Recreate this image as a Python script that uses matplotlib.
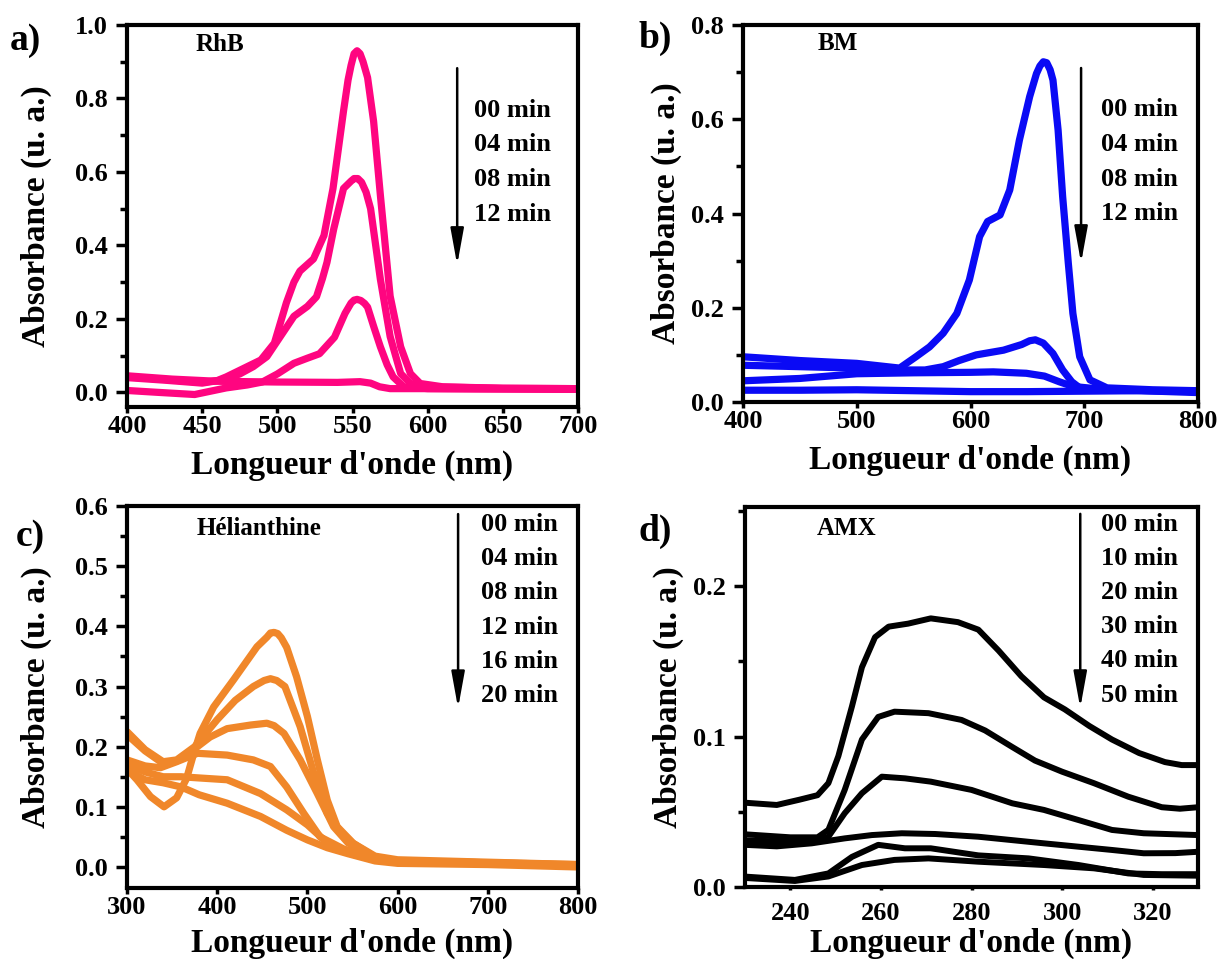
import matplotlib
matplotlib.use('Agg')
import matplotlib.pyplot as plt
from matplotlib.ticker import MultipleLocator

plt.rcParams['font.family'] = ['Liberation Serif', 'DejaVu Serif']
plt.rcParams['font.weight'] = 'bold'

# ---- a) RhB ----
wl_a00 = [400, 425, 450, 460, 466, 475, 489, 498, 506, 511, 515, 524, 531, 537, 544, 547, 549, 551, 553, 555, 557, 560, 564, 568.5, 575, 582, 588.5, 595, 610, 650, 700]
abs_a00 = [0.042, 0.035, 0.027, 0.032, 0.042, 0.06, 0.088, 0.134, 0.244, 0.30, 0.33, 0.363, 0.427, 0.555, 0.766, 0.85, 0.89, 0.922, 0.93, 0.922, 0.9, 0.857, 0.738, 0.537, 0.262, 0.124, 0.051, 0.024, 0.015, 0.011, 0.01]
wl_a04 = [400, 425, 450, 465, 475, 484, 493, 502, 511, 520, 526, 530, 533, 537.5, 544, 549, 551, 553.5, 556, 559, 562, 568.5, 575, 582, 588.5, 600, 650, 700]
abs_a04 = [0.040, 0.033, 0.025, 0.035, 0.05, 0.07, 0.097, 0.152, 0.207, 0.234, 0.26, 0.31, 0.354, 0.445, 0.555, 0.575, 0.582, 0.582, 0.572, 0.545, 0.5, 0.308, 0.152, 0.051, 0.024, 0.015, 0.011, 0.01]
wl_a08 = [400, 420, 445, 466, 480, 490, 500, 511, 520, 528, 538, 545, 549, 551, 553, 555.5, 558, 560, 564, 568.5, 573, 577, 584, 600, 650, 700]
abs_a08 = [0.005, 0.0, -0.006, 0.012, 0.02, 0.028, 0.05, 0.079, 0.093, 0.105, 0.15, 0.215, 0.243, 0.251, 0.253, 0.25, 0.242, 0.232, 0.18, 0.124, 0.075, 0.042, 0.015, 0.01, 0.009, 0.008]
wl_a12 = [400, 430, 460, 500, 540, 555, 562, 568, 575, 600, 650, 700]
abs_a12 = [0.045, 0.036, 0.03, 0.028, 0.027, 0.029, 0.025, 0.015, 0.01, 0.01, 0.009, 0.008]
times_a = ['00 min', '04 min', '08 min', '12 min']

# ---- b) BM ----
wl_b00 = [400, 450, 500, 537.7, 552, 564, 576, 588, 599, 608, 615, 626, 634.5, 643, 652, 658, 661, 664, 667, 670, 672.5, 677, 681, 686, 690, 696, 705, 720, 760, 800]
abs_b00 = [0.096, 0.088, 0.082, 0.072, 0.096, 0.117, 0.146, 0.188, 0.259, 0.351, 0.383, 0.397, 0.45, 0.556, 0.648, 0.697, 0.713, 0.722, 0.72, 0.705, 0.683, 0.577, 0.436, 0.294, 0.188, 0.096, 0.047, 0.03, 0.026, 0.024]
wl_b04 = [400, 450, 500, 540, 560, 576, 590, 605, 629, 645, 652, 657, 664, 672.5, 681, 689, 696, 720, 760, 800]
abs_b04 = [0.078, 0.075, 0.072, 0.068, 0.068, 0.075, 0.088, 0.1, 0.11, 0.122, 0.13, 0.132, 0.125, 0.103, 0.068, 0.043, 0.03, 0.025, 0.024, 0.022]
wl_b08 = [400, 450, 500, 550, 600, 620, 649, 665, 678, 690, 720, 800]
abs_b08 = [0.045, 0.05, 0.06, 0.062, 0.063, 0.064, 0.061, 0.055, 0.043, 0.033, 0.026, 0.022]
wl_b12 = [400, 450, 500, 550, 600, 650, 700, 750, 800]
abs_b12 = [0.025, 0.025, 0.026, 0.024, 0.022, 0.022, 0.023, 0.024, 0.02]
times_b = ['00 min', '04 min', '08 min', '12 min']

# ---- c) Helianthine ----
wl_c00 = [300, 311, 326, 341, 355, 366, 374, 381, 396, 418, 444, 455, 459, 463, 467, 471, 477, 488, 500, 511, 522, 533, 551, 574, 600, 700, 800]
abs_c00 = [0.163, 0.145, 0.117, 0.10, 0.115, 0.147, 0.189, 0.222, 0.266, 0.311, 0.366, 0.382, 0.389, 0.39, 0.388, 0.381, 0.365, 0.316, 0.25, 0.178, 0.111, 0.067, 0.039, 0.017, 0.01, 0.007, 0.003]
wl_c04 = [300, 320, 340, 355, 375, 400, 420, 440, 452, 459, 466, 475, 492, 507, 522, 536, 550, 575, 600, 700, 800]
abs_c04 = [0.225, 0.195, 0.175, 0.178, 0.2, 0.245, 0.277, 0.3, 0.31, 0.313, 0.31, 0.3, 0.233, 0.156, 0.089, 0.06, 0.04, 0.018, 0.012, 0.008, 0.004]
wl_c08 = [300, 320, 340, 355, 378, 392, 411, 437, 455, 463, 474, 492, 511, 529, 545, 575, 600, 700, 800]
abs_c08 = [0.22, 0.193, 0.172, 0.176, 0.2, 0.216, 0.23, 0.236, 0.239, 0.235, 0.222, 0.178, 0.122, 0.067, 0.04, 0.015, 0.01, 0.006, 0.002]
wl_c12 = [300, 320, 337, 355, 378, 411, 440, 459, 477, 496, 514, 540, 575, 600, 700, 800]
abs_c12 = [0.178, 0.168, 0.165, 0.175, 0.189, 0.186, 0.178, 0.167, 0.133, 0.089, 0.05, 0.03, 0.014, 0.01, 0.007, 0.004]
wl_c16 = [300, 320, 340, 360, 380, 411, 448, 477, 500, 522, 545, 575, 600, 700, 800]
abs_c16 = [0.17, 0.158, 0.15, 0.15, 0.148, 0.145, 0.122, 0.095, 0.07, 0.04, 0.025, 0.012, 0.008, 0.006, 0.002]
wl_c20 = [300, 320, 340, 360, 380, 411, 448, 477, 500, 522, 545, 575, 600, 700, 800]
abs_c20 = [0.16, 0.145, 0.14, 0.133, 0.12, 0.106, 0.084, 0.061, 0.045, 0.032, 0.022, 0.01, 0.006, 0.004, 0.0]
times_c = ['00 min', '04 min', '08 min', '12 min', '16 min', '20 min']

# ---- d) AMX ----
wl_d00 = [230, 237, 242, 246, 248.4, 250.6, 253.6, 255.8, 258.7, 261.7, 266, 271, 277, 281.5, 286, 291, 296, 300.6, 306, 311, 317, 322.7, 326.4, 330]
abs_d00 = [0.056, 0.0545, 0.058, 0.061, 0.069, 0.087, 0.12, 0.146, 0.166, 0.173, 0.175, 0.1785, 0.176, 0.171, 0.157, 0.14, 0.126, 0.118, 0.107, 0.098, 0.089, 0.083, 0.081, 0.081]
wl_d10 = [230, 240, 246, 248.4, 252, 255.8, 259.4, 263, 270.5, 277.8, 283, 289, 294, 300, 307, 314.6, 322, 326, 330]
abs_d10 = [0.035, 0.033, 0.033, 0.038, 0.0645, 0.098, 0.113, 0.1165, 0.1155, 0.111, 0.104, 0.093, 0.084, 0.0766, 0.069, 0.06, 0.053, 0.052, 0.053]
wl_d20 = [230, 240, 246, 248.4, 252, 255.8, 260.2, 265.3, 271, 280, 289, 296, 303.6, 311, 318, 330]
abs_d20 = [0.031, 0.03, 0.031, 0.0334, 0.049, 0.0623, 0.0733, 0.0722, 0.07, 0.0645, 0.0556, 0.0512, 0.0445, 0.0379, 0.0357, 0.0345]
wl_d30 = [230, 237, 244.7, 252, 258, 264.6, 272, 281.5, 296, 311, 318, 325, 330]
abs_d30 = [0.028, 0.027, 0.029, 0.0323, 0.0345, 0.0357, 0.0352, 0.0334, 0.029, 0.0246, 0.0224, 0.0225, 0.0234]
wl_d40 = [230, 241, 248.4, 253.6, 259.4, 265.3, 271, 281.5, 292.6, 303.6, 314.6, 322, 330]
abs_d40 = [0.0069, 0.0047, 0.009, 0.02, 0.028, 0.0257, 0.0257, 0.021, 0.019, 0.0146, 0.009, 0.0085, 0.0085]
wl_d50 = [230, 241, 248.4, 255.8, 263, 270.5, 281.5, 296, 307, 318, 330]
abs_d50 = [0.006, 0.004, 0.007, 0.0146, 0.018, 0.019, 0.0168, 0.0146, 0.0124, 0.008, 0.0075]
times_d = ['00 min', '10 min', '20 min', '30 min', '40 min', '50 min']


def style_axis(ax, xlim, ylim, xmaj, ymaj, ymin, xtick_len=4, xpad=2, xlabelpad=8.5, ylabelpad=6):
    ax.set_xlim(*xlim)
    ax.set_ylim(*ylim)
    ax.xaxis.set_major_locator(MultipleLocator(xmaj))
    ax.yaxis.set_major_locator(MultipleLocator(ymaj))
    ax.yaxis.set_minor_locator(MultipleLocator(ymin))
    for s in ax.spines.values():
        s.set_linewidth(3)
    ax.tick_params(axis='both', which='both', direction='out', width=2.5,
                   labelsize=19, top=False, right=False)
    ax.tick_params(axis='y', which='major', length=8, pad=6)
    ax.tick_params(axis='y', which='minor', length=5)
    ax.tick_params(axis='x', which='major', length=xtick_len, pad=xpad)
    ax.set_xlabel("Longueur d'onde (nm)", fontsize=24, fontweight='bold', labelpad=xlabelpad)
    ax.set_ylabel('Absorbance (u. a.)', fontsize=24, fontweight='bold', labelpad=ylabelpad)
    for lab in ax.get_xticklabels() + ax.get_yticklabels():
        lab.set_fontweight('bold')


def arrow_and_times(ax, xa, ya0, ya1, xt, yt0, dy, labels):
    ax.annotate('', xy=(xa, ya1), xytext=(xa, ya0), xycoords='axes fraction',
                arrowprops=dict(arrowstyle='-|>,head_width=0.2,head_length=1.1',
                                lw=1.8, color='black', shrinkA=0, shrinkB=0,
                                mutation_scale=20))
    for i, t in enumerate(labels):
        ax.text(xt, yt0 - i * dy, t, transform=ax.transAxes, fontsize=19,
                fontweight='bold', va='center', ha='left')


fig = plt.figure(figsize=(12.18, 9.59), dpi=100)
ax_a = fig.add_axes([0.1043, 0.5756, 0.3703, 0.3983])
ax_b = fig.add_axes([0.6100, 0.5808, 0.3736, 0.3931])
ax_c = fig.add_axes([0.1043, 0.0740, 0.3703, 0.3983])
ax_d = fig.add_axes([0.6117, 0.0751, 0.3719, 0.3962])

lw = 5.2
pink = '#FF0580'
for x, y in [(wl_a00, abs_a00), (wl_a04, abs_a04), (wl_a08, abs_a08), (wl_a12, abs_a12)]:
    ax_a.plot(x, y, color=pink, lw=lw, solid_joinstyle='round', solid_capstyle='round')
style_axis(ax_a, (400, 700), (-0.04, 1.0), 50, 0.2, 0.1, ylabelpad=16)
ax_a.text(0.153, 0.948, 'RhB', transform=ax_a.transAxes, fontsize=18, fontweight='bold', va='center')
arrow_and_times(ax_a, 0.732, 0.887, 0.372, 0.769, 0.777, 0.091, times_a)

blue = '#0A0AF5'
for x, y in [(wl_b00, abs_b00), (wl_b04, abs_b04), (wl_b08, abs_b08), (wl_b12, abs_b12)]:
    ax_b.plot(x, y, color=blue, lw=lw, solid_joinstyle='round', solid_capstyle='round')
style_axis(ax_b, (400, 800), (0.0, 0.8), 100, 0.2, 0.1)
ax_b.text(0.163, 0.95, 'BM', transform=ax_b.transAxes, fontsize=18, fontweight='bold', va='center')
arrow_and_times(ax_b, 0.743, 0.886, 0.369, 0.787, 0.775, 0.092, times_b)

orange = '#F0872A'
for x, y in [(wl_c00, abs_c00), (wl_c04, abs_c04), (wl_c08, abs_c08),
             (wl_c12, abs_c12), (wl_c16, abs_c16), (wl_c20, abs_c20)]:
    ax_c.plot(x, y, color=orange, lw=lw, solid_joinstyle='round', solid_capstyle='round')
style_axis(ax_c, (300, 800), (-0.035, 0.6), 100, 0.1, 0.05, xlabelpad=6, ylabelpad=16)
ax_c.text(0.155, 0.94, 'Hélianthine', transform=ax_c.transAxes, fontsize=18, fontweight='bold', va='center')
arrow_and_times(ax_c, 0.734, 0.979, 0.471, 0.785, 0.953, 0.09, times_c)

for x, y in [(wl_d00, abs_d00), (wl_d10, abs_d10), (wl_d20, abs_d20),
             (wl_d30, abs_d30), (wl_d40, abs_d40), (wl_d50, abs_d50)]:
    ax_d.plot(x, y, color='black', lw=4.3, solid_joinstyle='round', solid_capstyle='round')
style_axis(ax_d, (230, 330), (0.0, 0.2525), 20, 0.1, 0.05, xtick_len=2, xpad=9, xlabelpad=2)
ax_d.text(0.159, 0.943, 'AMX', transform=ax_d.transAxes, fontsize=18, fontweight='bold', va='center')
arrow_and_times(ax_d, 0.740, 0.982, 0.471, 0.786, 0.955, 0.09, times_d)

for lab, x, y in [('a)', 25, 40), ('b)', 655, 38), ('c)', 30, 537), ('d)', 655, 531)]:
    fig.text(x / 1218, 1 - y / 959, lab, fontsize=27, fontweight='bold', ha='center', va='center')

fig.savefig('out.png', dpi=100)
